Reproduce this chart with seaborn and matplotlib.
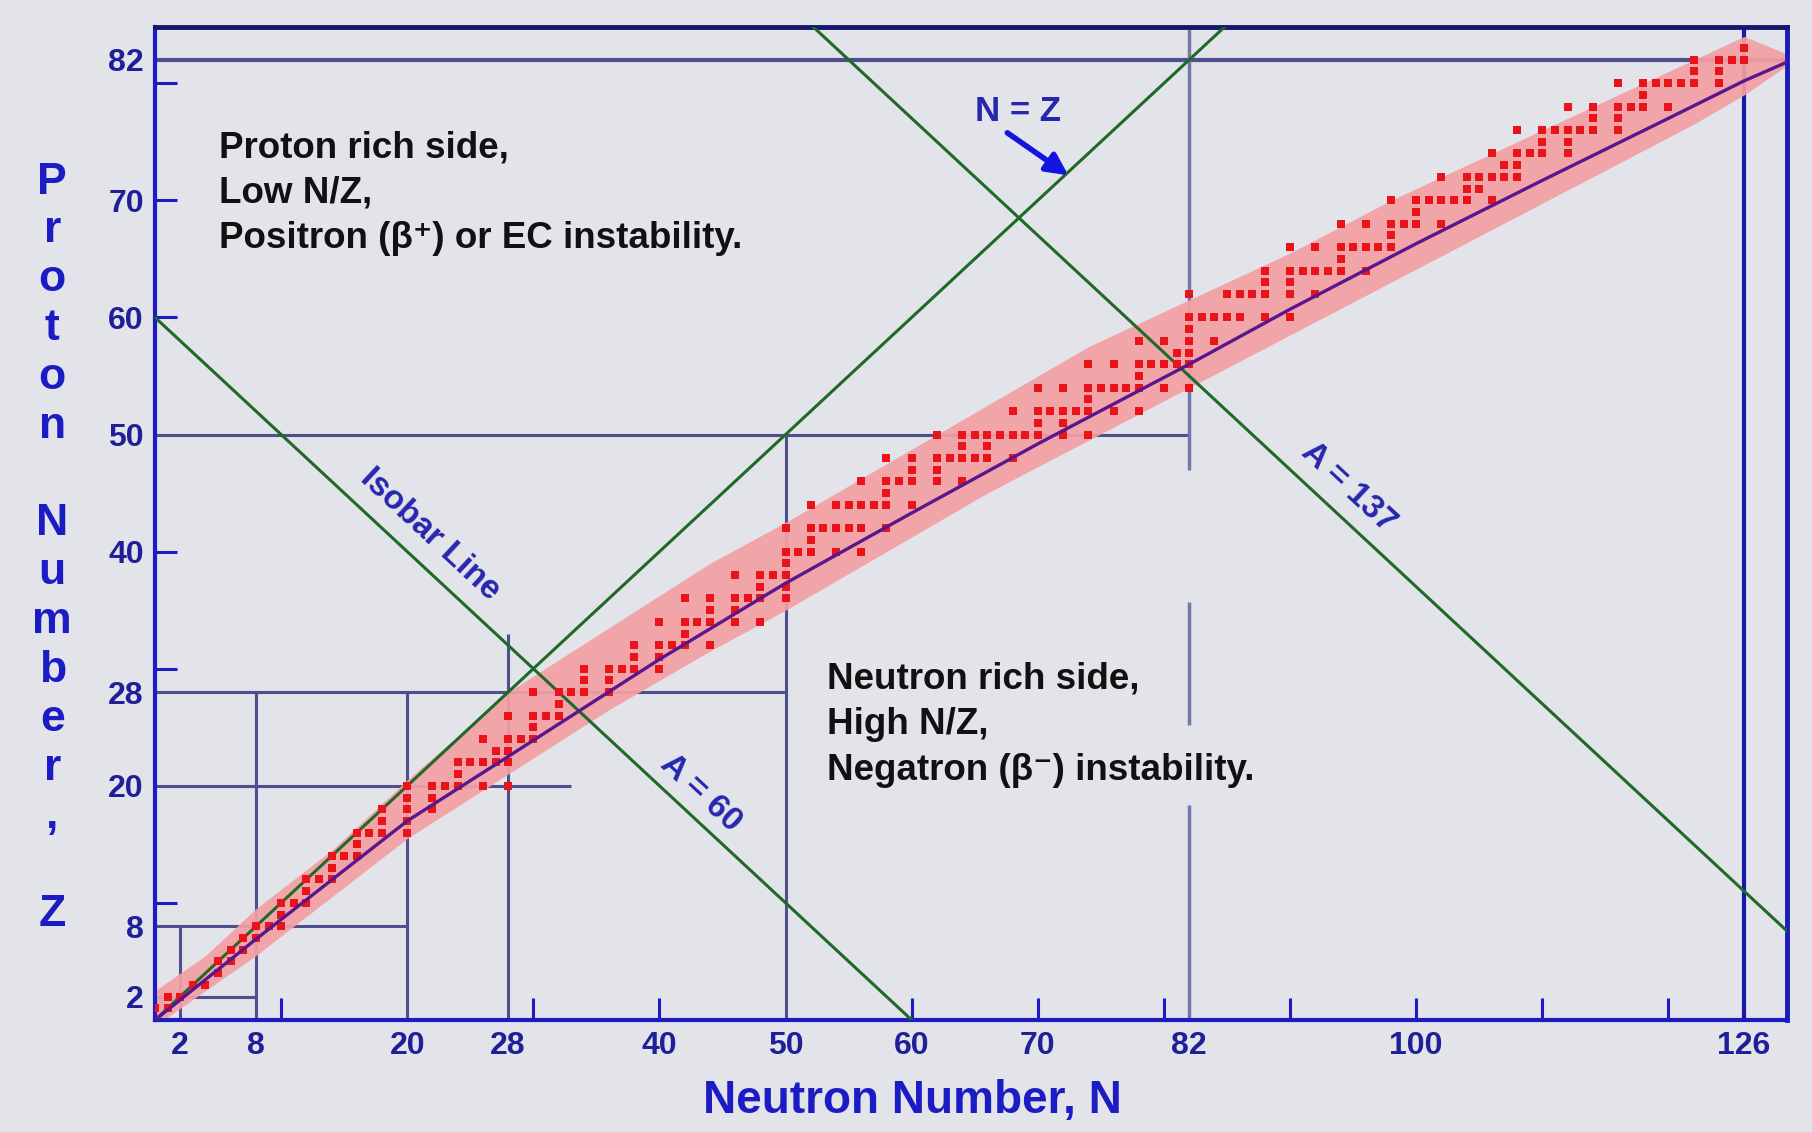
import numpy as np
import matplotlib
matplotlib.use("Agg")
import matplotlib.pyplot as plt
import seaborn as sns

# ------------------------------------------------------------------
# Stable nuclides (proton number Z, neutron number N)
# ------------------------------------------------------------------
nuclide_z = [
    1, 1, 2, 2, 3, 3, 4, 5, 5, 6, 6, 7, 7, 8, 8, 8, 9, 10, 10, 10, 11,
    12, 12, 12, 13, 14, 14, 14, 15, 16, 16, 16, 16, 17, 17, 18, 18, 18,
    19, 19, 20, 20, 20, 20, 20, 20, 21, 22, 22, 22, 22, 22, 23, 23,
    24, 24, 24, 24, 25, 26, 26, 26, 26, 27, 28, 28, 28, 28, 28, 29, 29,
    30, 30, 30, 30, 30, 31, 31, 32, 32, 32, 32, 32, 33,
    34, 34, 34, 34, 34, 34, 35, 35, 36, 36, 36, 36, 36, 36, 37, 37,
    38, 38, 38, 38, 39, 40, 40, 40, 40, 40, 41,
    42, 42, 42, 42, 42, 42, 42, 44, 44, 44, 44, 44, 44, 44, 45,
    46, 46, 46, 46, 46, 46, 47, 47, 48, 48, 48, 48, 48, 48, 48, 48, 49, 49,
    50, 50, 50, 50, 50, 50, 50, 50, 50, 50, 51, 51,
    52, 52, 52, 52, 52, 52, 52, 52, 53,
    54, 54, 54, 54, 54, 54, 54, 54, 54, 55,
    56, 56, 56, 56, 56, 56, 56, 57, 57, 58, 58, 58, 58, 59,
    60, 60, 60, 60, 60, 60, 60, 62, 62, 62, 62, 62, 62, 62, 63, 63,
    64, 64, 64, 64, 64, 64, 64, 65, 66, 66, 66, 66, 66, 66, 66, 67,
    68, 68, 68, 68, 68, 68, 69, 70, 70, 70, 70, 70, 70, 70, 71, 71,
    72, 72, 72, 72, 72, 72, 73, 73, 74, 74, 74, 74, 74, 75, 75,
    76, 76, 76, 76, 76, 76, 76, 77, 77, 78, 78, 78, 78, 78, 78, 79,
    80, 80, 80, 80, 80, 80, 80, 81, 81, 82, 82, 82, 82, 83,
]
nuclide_n = [
    0, 1, 1, 2, 3, 4, 5, 5, 6, 6, 7, 7, 8, 8, 9, 10, 10, 10, 11, 12, 12,
    12, 13, 14, 14, 14, 15, 16, 16, 16, 17, 18, 20, 18, 20, 18, 20, 22,
    20, 22, 20, 22, 23, 24, 26, 28, 24, 24, 25, 26, 27, 28, 27, 28,
    26, 28, 29, 30, 30, 28, 30, 31, 32, 32, 30, 32, 33, 34, 36, 34, 36,
    34, 36, 37, 38, 40, 38, 40, 38, 40, 41, 42, 44, 42,
    40, 42, 43, 44, 46, 48, 44, 46, 42, 44, 46, 47, 48, 50, 48, 50,
    46, 48, 49, 50, 50, 50, 51, 52, 54, 56, 52,
    50, 52, 53, 54, 55, 56, 58, 52, 54, 55, 56, 57, 58, 60, 58,
    56, 58, 59, 60, 62, 64, 60, 62, 58, 60, 62, 63, 64, 65, 66, 68, 64, 66,
    62, 64, 65, 66, 67, 68, 69, 70, 72, 74, 70, 72,
    68, 70, 71, 72, 73, 74, 76, 78, 74,
    70, 72, 74, 75, 76, 77, 78, 80, 82, 78,
    74, 76, 78, 79, 80, 81, 82, 81, 82, 78, 80, 82, 84, 82,
    82, 83, 84, 85, 86, 88, 90, 82, 85, 86, 87, 88, 90, 92, 88, 90,
    88, 90, 91, 92, 93, 94, 96, 94, 90, 92, 94, 95, 96, 97, 98, 98,
    94, 96, 98, 99, 100, 102, 100, 98, 100, 101, 102, 103, 104, 106, 104, 105,
    102, 104, 105, 106, 107, 108, 107, 108, 106, 108, 109, 110, 112, 110, 112,
    108, 110, 111, 112, 113, 114, 116, 114, 116, 112, 114, 116, 117, 118, 120, 118,
    116, 118, 119, 120, 121, 122, 124, 122, 124, 122, 124, 125, 126, 126,
]

# line of stability
stability_n = [0, 8, 20, 28, 40, 50, 60, 70, 82, 90, 100, 110, 120, 126, 129.4]
stability_z = [0, 6.9, 17.0, 22.5, 30.8, 37.3, 43.3, 49.2, 56.0, 60.7, 66.3, 71.7, 77.0, 80.2, 81.8]

# shaded band of stability
band_n = [0, 4, 8, 14, 20, 28, 36, 44, 50, 58, 66, 74, 82, 90, 98, 106, 114, 122, 126, 129.4]
band_upper = [2.5, 5.5, 9.5, 14.5, 20.5, 28.0, 33.5, 39.0, 42.5, 47.5, 52.5, 57.5, 61.5,
              65.5, 70.0, 74.0, 78.0, 82.0, 84.0, 82.5]
band_lower = [-0.5, 2.5, 5.5, 10.5, 15.5, 21.0, 26.5, 31.5, 35.0, 40.0, 45.0, 49.5, 54.0,
              58.5, 63.0, 67.5, 72.0, 76.5, 79.0, 81.5]

# magic-number lines
magic_h_z = [2, 8, 20, 28, 50]
magic_h_nmax = [8, 20, 33, 50, 82]
magic_v_n = [2, 8, 20, 28, 50]
magic_v_zmax = [8, 28, 28, 33, 50]
n82_segments = [(0, 18.4), (25.2, 35.7), (47.0, 84.8)]

# isobars (A = N + Z)
isobar_a = [60, 137]

# axes
n_tick_labels = [2, 8, 20, 28, 40, 50, 60, 70, 82, 100, 126]
z_tick_labels = [2, 8, 20, 28, 40, 50, 60, 70, 82]
n_small_ticks = [10, 30, 40, 60, 70, 80, 90, 100, 110, 120]
z_small_ticks = [10, 30, 40, 60, 70, 80]
N_MAX, Z_MAX = 129.4, 84.8

# ------------------------------------------------------------------
# style
# ------------------------------------------------------------------
BG = '#e3e4e9'
BLUE = '#1c1cc4'
NAVY = '#1f1f9a'
SLATE = '#4d508c'
GREEN = '#1e6a28'
PURPLE = '#5a168c'

sns.set_theme(style="white")
plt.rcParams['font.family'] = ['Liberation Sans', 'DejaVu Sans']

fig = plt.figure(figsize=(18.12, 11.32), dpi=100, facecolor=BG)
ax = fig.add_axes([155 / 1812, 1 - 1020 / 1132, 1632 / 1812, 993 / 1132])
ax.set_facecolor(BG)
ax.set_xlim(0, N_MAX)
ax.set_ylim(0, Z_MAX)

# magic-number grid
ax.hlines(magic_h_z, 0, magic_h_nmax, color=SLATE, lw=2.2, zorder=1)
ax.vlines(magic_v_n, 0, magic_v_zmax, color=SLATE, lw=2.2, zorder=1)
ax.hlines(82, 0, N_MAX, color=SLATE, lw=3, zorder=1)
for z0, z1 in n82_segments:
    ax.vlines(82, z0, z1, color='#7078ac', lw=2.5, zorder=1)
ax.vlines(126, 0, Z_MAX, color='#1818a8', lw=3, zorder=1)

# band of stability
ax.fill_between(band_n, band_lower, band_upper, color='#f4a0a4', alpha=0.92, lw=0, zorder=2)

# N = Z line and isobars
n_edge = np.array([0, N_MAX])
sns.lineplot(x=n_edge, y=n_edge, color=GREEN, lw=2.2, ax=ax, zorder=3)
for a in isobar_a:
    sns.lineplot(x=n_edge, y=a - n_edge, color=GREEN, lw=2.2, ax=ax, zorder=3)

# stable nuclides
sns.scatterplot(x=nuclide_n, y=nuclide_z, marker='s', s=38, color='#e8141a',
                linewidth=0, ax=ax, zorder=4)

# line of stability
sns.lineplot(x=stability_n, y=stability_z, color=PURPLE, lw=2.4, sort=False, ax=ax, zorder=5)

# spines
for side in ['left', 'bottom']:
    ax.spines[side].set_color(BLUE)
    ax.spines[side].set_linewidth(3)
ax.spines['right'].set_color('#1a1ab8')
ax.spines['right'].set_linewidth(3.5)
ax.spines['top'].set_color('#16166e')
ax.spines['top'].set_linewidth(3.5)

# ticks
ax.set_xticks(n_tick_labels)
ax.set_yticks(z_tick_labels)
ax.set_xticks(n_small_ticks, minor=True)
ax.set_yticks(z_small_ticks, minor=True)
ax.xaxis.remove_overlapping_locs = False
ax.yaxis.remove_overlapping_locs = False
ax.tick_params(which='major', length=0, labelsize=23, labelcolor=NAVY, pad=8)
ax.tick_params(which='minor', direction='in', length=16, width=2.2, color=BLUE,
               bottom=True, left=True, top=False, right=False)
for lab in ax.get_xticklabels() + ax.get_yticklabels():
    lab.set_fontweight('bold')

ax.set_xlabel('Neutron Number, N', fontsize=33, fontweight='bold', color=BLUE)
ax.xaxis.set_label_coords(0.464, -0.082)
ax.xaxis.label.set_va('center')
ax.set_ylabel('P\nr\no\nt\no\nn\n\nN\nu\nm\nb\ne\nr\n,\n\nZ', fontsize=32, fontweight='bold',
              color=BLUE, rotation=0, linespacing=1.245, multialignment='center')
ax.yaxis.set_label_coords(-0.063, 0.475)
ax.yaxis.label.set_va('center')
ax.yaxis.label.set_ha('center')

# annotations
lab_kw = dict(color='#2626b0', fontsize=24, fontweight='bold', ha='center', va='center',
              rotation=-45, transform_rotates_text=True, rotation_mode='anchor', zorder=6)
ax.text(21.8, 41.5, 'Isobar Line', **lab_kw)
ax.text(43.3, 19.4, 'A = 60', **lab_kw)
ax.text(94.6, 45.5, 'A = 137', **lab_kw)

ax.text(68.4, 77.6, 'N = Z', color='#2626b0', fontsize=25, fontweight='bold',
        ha='center', va='center', zorder=6)
ax.annotate('', xy=(72.6, 72.0), xytext=(67.4, 75.9),
            arrowprops=dict(arrowstyle='-|>', color='#1414e0', lw=4, mutation_scale=32),
            zorder=6)

side_kw = dict(color='#111111', fontsize=26.5, fontweight='bold', ha='left', va='center',
               linespacing=1.39, zorder=6)
ax.text(5.1, 70.6, 'Proton rich side,\nLow N/Z,\nPositron (β\u207a) or EC instability.', **side_kw)
ax.text(53.3, 25.2, 'Neutron rich side,\nHigh N/Z,\nNegatron (β\u207b) instability.', **side_kw)

fig.savefig('out.png', dpi=100, facecolor=BG)
